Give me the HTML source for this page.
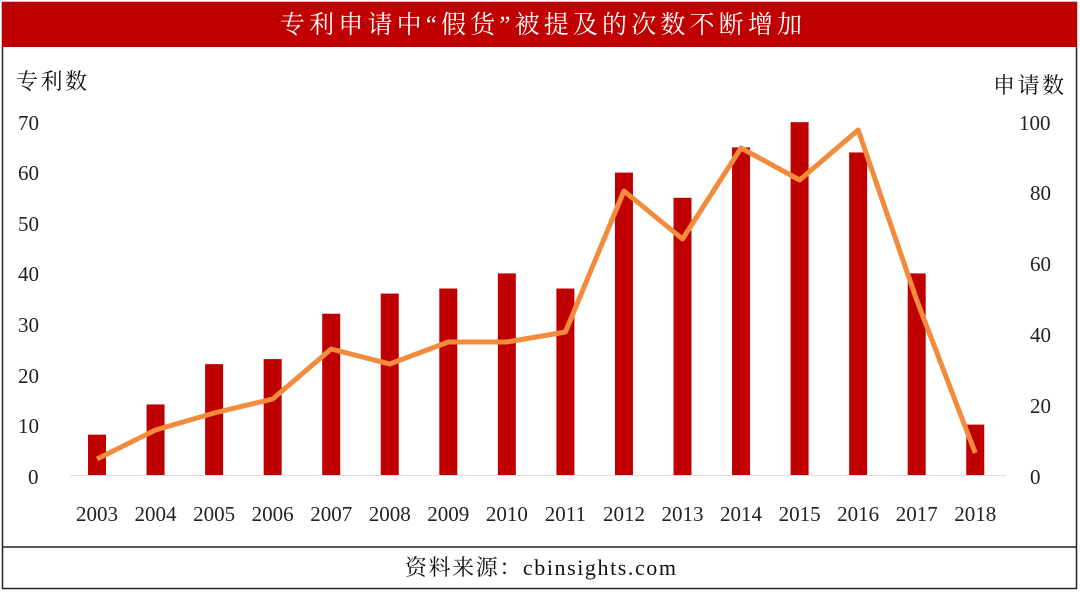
<!DOCTYPE html>
<html><head><meta charset="utf-8"><style>
body{margin:0;background:#fff;}
svg{display:block;font-family:"Liberation Serif","Noto Serif CJK SC",serif;}
</style></head><body>
<svg width="1080" height="593" viewBox="0 0 1080 593" xmlns="http://www.w3.org/2000/svg">
<rect x="0" y="0" width="1080" height="593" fill="#fff"/>
<rect x="2.5" y="2.5" width="1074" height="586" fill="none" stroke="#222" stroke-width="1.5"/>
<rect x="2" y="2" width="1075" height="45" fill="#c00000"/>
<text x="541" y="33" fill="#fff" font-size="25" text-anchor="middle" textLength="522" lengthAdjust="spacing">专利申请中“假货”被提及的次数不断增加</text>
<line x1="2" y1="547" x2="1077" y2="547" stroke="#222" stroke-width="1.5"/>
<text x="405" y="575" font-size="22" fill="#111" textLength="271" lengthAdjust="spacing">资料来源：cbinsights.com</text>
<text x="16" y="89" font-size="22" fill="#111" textLength="71" lengthAdjust="spacing">专利数</text>
<text x="993" y="93" font-size="22" fill="#111" textLength="71" lengthAdjust="spacing">申请数</text>
<g font-size="21" fill="#222" text-anchor="start">
<text x="18" y="130">70</text><text x="18" y="180">60</text><text x="18" y="231">50</text><text x="18" y="281">40</text><text x="18" y="332">30</text><text x="18" y="383">20</text><text x="18" y="433">10</text><text x="28" y="484">0</text>
</g>
<g font-size="21" fill="#222" text-anchor="start">
<text x="1019" y="130">100</text><text x="1030" y="200">80</text><text x="1030" y="271">60</text><text x="1030" y="342">40</text><text x="1030" y="413">20</text><text x="1030" y="484">0</text>
</g>
<line x1="70" y1="475.5" x2="1006" y2="475.5" stroke="#ddd" stroke-width="1"/>
<g fill="#c00000" id="bars"></g>
<g font-size="21" fill="#222" text-anchor="middle" id="xl"></g>
<polyline id="ln" fill="none" stroke="#f28c3c" stroke-width="5" stroke-linejoin="round"/>
<script>
var b=[8,14,22,23,32,36,37,40,37,60,55,65,70,64,40,10];
var ly=[459,430,413,399,349,364,342,342,332,191,239,148,180,130,300,453];
var g=document.getElementById('bars'),xl=document.getElementById('xl'),pts=[];
for(var i=0;i<16;i++){var cx=97+58.55*i;var h=b[i]*5.04;
var r=document.createElementNS('http://www.w3.org/2000/svg','rect');
r.setAttribute('x',cx-9);r.setAttribute('y',475-h);r.setAttribute('width',18);r.setAttribute('height',h);g.appendChild(r);
var t=document.createElementNS('http://www.w3.org/2000/svg','text');t.setAttribute('x',cx);t.setAttribute('y',521);t.textContent=2003+i;xl.appendChild(t);
pts.push(cx+','+ly[i]);}
document.getElementById('ln').setAttribute('points',pts.join(' '));
</script>
</svg>
</body></html>
